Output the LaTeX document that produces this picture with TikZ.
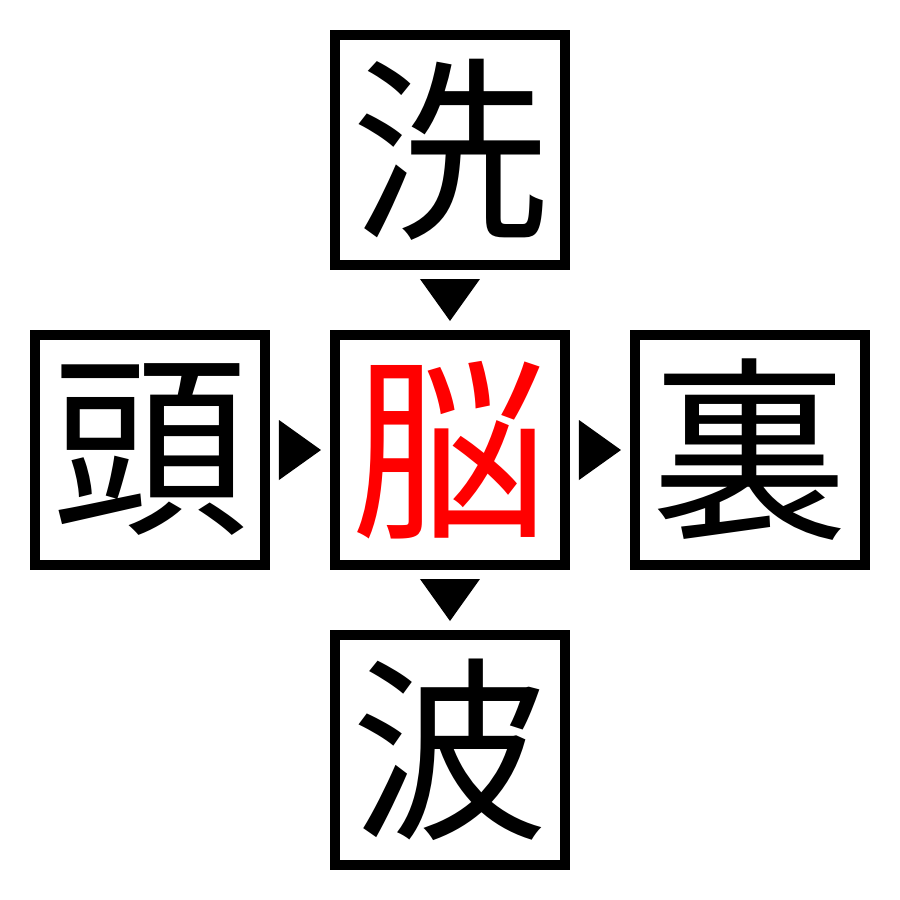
\documentclass[tikz,border=0pt]{standalone}
\usepackage{fontspec}
\newfontfamily\cjk{Noto Sans CJK JP}
\usetikzlibrary{positioning}

\tikzset{
    kanji/.style={draw, line width=1mm, minimum size=2.3cm, inner sep=0pt,
        font=\cjk\fontsize{56}{56}\selectfont},
    tri/.pic={\fill (-0.21,0.3) -- (0.21,0) -- (-0.21,-0.3) -- cycle;}
}

\begin{document}
\begin{tikzpicture}[node distance=3cm]
    \useasboundingbox (-4.5,-4.5) rectangle (4.5,4.5);

    % Boxes {nao, sen, zu, ri, ha}
    \node [kanji, text=red] (nao)                  {脳};
    \node [kanji]           (sen) [above of=nao]   {洗};
    \node [kanji]           (zu)  [left of=nao]    {頭};
    \node [kanji]           (ri)  [right of=nao]   {裏};
    \node [kanji]           (ha)  [below of=nao]   {波};

    % Triangles
    \path (sen) -- coordinate (sennao) (nao);
    \path (zu)  -- coordinate (zunao)  (nao);
    \path (nao) -- coordinate (naori)  (ri);
    \path (nao) -- coordinate (naoha)  (ha);
    \pic [rotate=-90] at (sennao) {tri};
    \pic at (zunao) {tri};
    \pic at (naori) {tri};
    \pic [rotate=-90] at (naoha) {tri};
\end{tikzpicture}
\end{document}
